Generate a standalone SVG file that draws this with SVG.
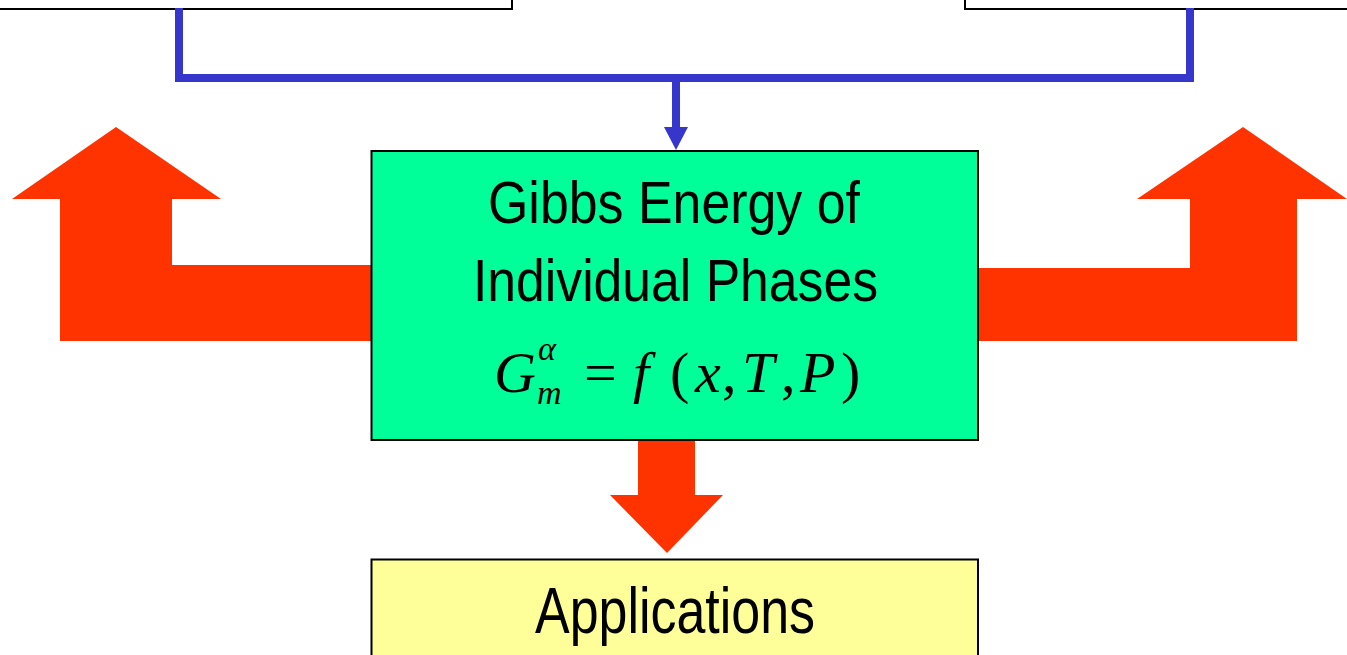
<svg xmlns="http://www.w3.org/2000/svg" width="1347" height="655" viewBox="0 0 1347 655">
<style>
.box{stroke:#000;stroke-width:2}
.lbl{font-family:"Liberation Sans",Arial,sans-serif;fill:#000}
.m{font-family:"Liberation Serif","Times New Roman",serif;fill:#000}
.it{font-style:italic}
.red{fill:#FF3300}
.blue{stroke:#3636CC;stroke-width:8;fill:none}
</style>
<rect width="1347" height="655" fill="#fff"/>
<g id="source-left"><rect class="box" x="-10" y="-30" width="522" height="39" fill="#fff"/></g>
<g id="source-right"><rect class="box" x="965" y="-30" width="400" height="39" fill="#fff"/></g>
<g id="connectors">
<polyline class="blue" points="179,8 179,78 1190,78 1190,8"/>
<line class="blue" x1="676" y1="78" x2="676" y2="130"/>
<polygon points="664,127 688,127 676,150" fill="#3636CC"/>
<polygon class="red" points="12,199 116,127 221,199 172,199 172,265 372,265 372,341 60,341 60,199"/>
<polygon class="red" points="977,268 1190,268 1190,199 1137,199 1243,127 1347,199 1297,199 1297,341 977,341"/>
<polygon class="red" points="638,441 695,441 695,495 723,495 667,553 610,495 638,495"/>
</g>
<g id="gibbs">
<rect class="box" x="371.5" y="151" width="606.5" height="289" fill="#00FF99"/>
<text class="lbl" x="488" y="223" font-size="59" textLength="372" lengthAdjust="spacingAndGlyphs">Gibbs Energy of</text>
<text class="lbl" x="473" y="301" font-size="59" textLength="405" lengthAdjust="spacingAndGlyphs">Individual Phases</text>
<text class="m it" x="494" y="392" font-size="58">G</text>
<text class="m it" x="538" y="360" font-size="34">α</text>
<text class="m it" x="537" y="404" font-size="34">m</text>
<text class="m" x="584" y="392" font-size="58">=</text>
<text class="m it" x="633" y="392" font-size="58">f</text>
<text class="m" x="670" y="392" font-size="58">(</text>
<text class="m it" x="695" y="392" font-size="58">x</text>
<text class="m" x="722" y="392" font-size="58">,</text>
<text class="m it" x="742" y="392" font-size="58">T</text>
<text class="m" x="781" y="392" font-size="58">,</text>
<text class="m it" x="800" y="392" font-size="58">P</text>
<text class="m" x="841" y="392" font-size="58">)</text>
</g>
<g id="applications">
<rect class="box" x="371.5" y="559.5" width="606.5" height="110" fill="#FFFF99"/>
<text class="lbl" x="535" y="633" font-size="64" textLength="280" lengthAdjust="spacingAndGlyphs">Applications</text>
</g>
</svg>
